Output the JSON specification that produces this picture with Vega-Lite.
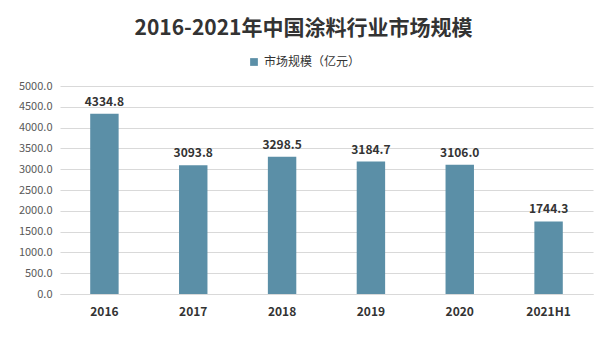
{
  "$schema": "https://vega.github.io/schema/vega-lite/v6.json",
  "width": 533,
  "height": 208,
  "autosize": {"type": "none"},
  "padding": {"left": 60, "top": 86, "right": 13, "bottom": 70},
  "background": "white",
  "title": {
    "text": "2016-2021年中国涂料行业市场规模",
    "font": "Noto Sans CJK SC",
    "fontSize": 21,
    "fontWeight": "bold",
    "color": "#333333",
    "anchor": "middle",
    "dx": -23,
    "dy": -13
  },
  "data": {
    "values": [
      {"year": "2016", "value": 4334.8, "series": "市场规模（亿元）"},
      {"year": "2017", "value": 3093.8, "series": "市场规模（亿元）"},
      {"year": "2018", "value": 3298.5, "series": "市场规模（亿元）"},
      {"year": "2019", "value": 3184.7, "series": "市场规模（亿元）"},
      {"year": "2020", "value": 3106.0, "series": "市场规模（亿元）"},
      {"year": "2021H1", "value": 1744.3, "series": "市场规模（亿元）"}
    ]
  },
  "config": {
    "view": {"stroke": null},
    "font": "Noto Sans CJK SC"
  },
  "encoding": {
    "x": {
      "field": "year",
      "type": "nominal",
      "sort": null,
      "title": null,
      "scale": {"paddingInner": 0.68, "paddingOuter": 0.34},
      "axis": {
        "labelAngle": 0,
        "labelFontSize": 12,
        "labelFontWeight": "bold",
        "labelColor": "#333333",
        "labelPadding": 12,
        "ticks": false,
        "domainColor": "#d9d9d9"
      }
    },
    "y": {
      "field": "value",
      "type": "quantitative",
      "title": null,
      "scale": {"domain": [0, 5000]},
      "axis": {
        "values": [0, 500, 1000, 1500, 2000, 2500, 3000, 3500, 4000, 4500, 5000],
        "format": ".1f",
        "labelFontSize": 11,
        "labelColor": "#595959",
        "labelPadding": 8,
        "ticks": false,
        "domain": false,
        "gridColor": "#d9d9d9"
      }
    }
  },
  "layer": [
    {
      "mark": {"type": "bar", "color": "#5B8FA7"},
      "encoding": {
        "color": {
          "field": "series",
          "type": "nominal",
          "scale": {"range": ["#5B8FA7"]},
          "legend": {
            "title": null,
            "orient": "none",
            "legendX": 188,
            "legendY": -30,
            "symbolType": "square",
            "symbolSize": 60,
            "labelFontSize": 12,
            "labelColor": "#333333",
            "labelFont": "Noto Sans CJK SC"
          }
        }
      }
    },
    {
      "mark": {"type": "text", "dy": -12, "fontSize": 12, "fontWeight": "bold", "color": "#333333"},
      "encoding": {
        "text": {"field": "value", "type": "quantitative", "format": ".1f"}
      }
    }
  ]
}
